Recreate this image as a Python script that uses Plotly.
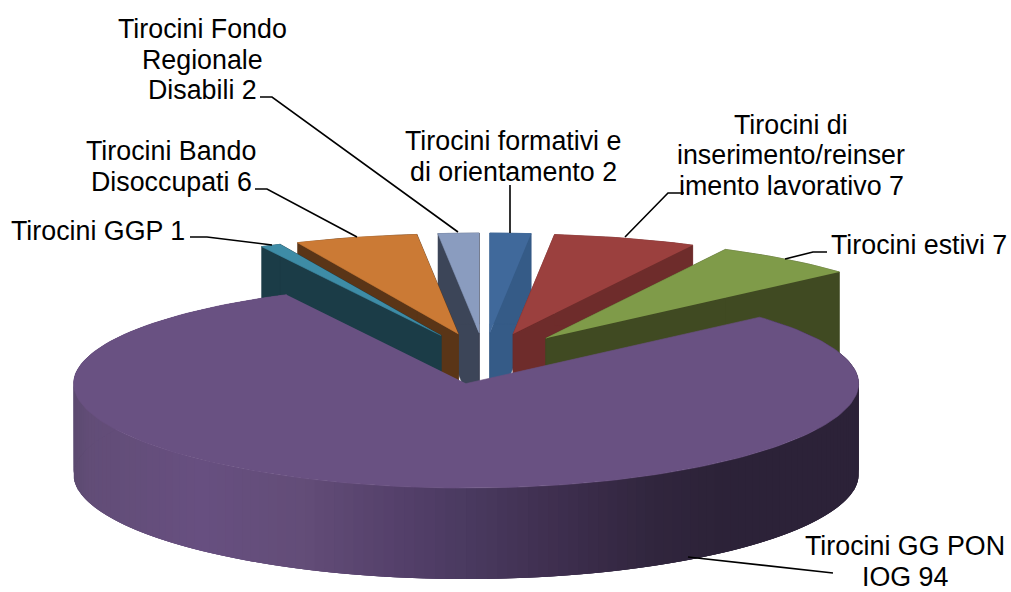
import math
import plotly.graph_objects as go

categories = ["Tirocini formativi e di orientamento", "Tirocini di inserimento/reinserimento lavorativo",
              "Tirocini estivi", "Tirocini GG PON IOG", "Tirocini GGP", "Tirocini Bando Disoccupati",
              "Tirocini Fondo Regionale Disabili"]
values = [2, 7, 7, 94, 1, 6, 2]
top_colors = ["#40699b", "#9b403e", "#7f9b49", "#695182", "#3e8ca6", "#cb7a35", "#8a9cbf"]
wall_colors = ["#355b87", "#6e2c2b", "#404a22", "#695182", "#1b3c47", "#5a3517", "#3c4558"]
paint_order = [0, 6, 1, 5, 2, 4, 3]

label_lines = [
    (["Tirocini Fondo", "Regionale", "Disabili 2"], 202, [29, 60, 90]),
    (["Tirocini Bando", "Disoccupati 6"], 171, [151, 182]),
    (["Tirocini GGP 1"], 98, [231]),
    (["Tirocini formativi e", "di orientamento 2"], 513, [141, 172]),
    (["Tirocini di", "inserimento/reinser", "imento lavorativo 7"], 791, [125, 155, 186]),
    (["Tirocini estivi 7"], 919, [245]),
    (["Tirocini GG PON", "IOG 94"], 905, [546, 577]),
]
leaders = [
    ([260, 272, 458], [97, 97, 232]),
    ([255, 267, 357], [189, 189, 237]),
    ([190, 207, 272], [237, 237, 245]),
    ([510, 510], [185, 233]),
    ([684, 668, 625], [193, 193, 237]),
    ([827, 813, 785], [252, 252, 259]),
    ([833, 688], [573, 557]),
]

CX, CY, RX, RY, RY_FRONT = 484.5, 358.5, 392.5, 100.0, 104.5
PULL_X, PULL_Y, DEPTH = 100.0, 25.5, 91.0
GRADIENT = [(74, (92, 74, 112)), (90, (98, 77, 119)), (200, (103, 79, 128)), (300, (99, 77, 120)),
            (400, (84, 64, 106)), (467, (74, 58, 96)), (550, (63, 47, 80)), (650, (49, 38, 62)),
            (720, (44, 34, 56)), (860, (44, 34, 56))]


def wall_shade(x):
    for (x0, c0), (x1, c1) in zip(GRADIENT, GRADIENT[1:]):
        if x <= x1:
            t = max(0, (x - x0) / (x1 - x0))
            return "rgb(%d,%d,%d)" % tuple(round(a + (b - a) * t) for a, b in zip(c0, c1))
    return "rgb(44,34,56)"


fig = go.Figure()


def poly(xs, ys, color, edge=True):
    fig.add_trace(go.Scatter(x=xs, y=ys, mode="lines", fill="toself", fillcolor=color,
                             line=dict(color=color, width=0.6 if edge else 0), hoverinfo="skip",
                             showlegend=False))


total = sum(values)
starts, acc = [], 0
for v in values:
    starts.append(acc / total * 2 * math.pi)
    acc += v


def rim(ax, ay, t):
    ry = RY + (RY_FRONT - RY) * max(0.0, -math.cos(t))
    return ax + RX * math.sin(t), ay - ry * math.cos(t)


for i in paint_order:
    t0 = starts[i]
    t1 = t0 + values[i] / total * 2 * math.pi
    mid = (t0 + t1) / 2
    ax = CX + PULL_X * math.sin(mid)
    ay = CY - PULL_Y * math.cos(mid)
    n = max(4, int(values[i] * 2))
    ts = [t0 + (t1 - t0) * k / n for k in range(n + 1)]
    pts = [rim(ax, ay, t) for t in ts]
    if values[i] < total / 2:
        for p, q in ((pts[0], (ax, ay)), (pts[-1], (ax, ay))):
            poly([p[0], q[0], q[0], p[0]], [p[1], q[1], q[1] + DEPTH, p[1] + DEPTH], wall_colors[i])
        poly([p[0] for p in pts] + [p[0] for p in pts[::-1]],
             [p[1] for p in pts] + [p[1] + DEPTH for p in pts[::-1]], wall_colors[i])
    else:
        # each band runs under the next ones, so no seams show between the shades
        for k in range(n):
            band = pts[k:k + 4]
            poly([p[0] for p in band] + [p[0] for p in band[::-1]],
                 [p[1] for p in band] + [p[1] + DEPTH for p in band[::-1]],
                 wall_shade((pts[k][0] + pts[k + 1][0]) / 2), edge=False)
    poly([ax] + [p[0] for p in pts], [ay] + [p[1] for p in pts], top_colors[i])

for xs, ys in leaders:
    fig.add_trace(go.Scatter(x=xs, y=ys, mode="lines", line=dict(color="black", width=1.6),
                             hoverinfo="skip", showlegend=False))

for lines, xc, ycs in label_lines:
    for text, yc in zip(lines, ycs):
        fig.add_annotation(x=xc, y=yc, text=text, showarrow=False, xanchor="center", yanchor="middle",
                           font=dict(family="Liberation Sans", size=26.8, color="black"))

fig.update_layout(width=1011, height=592, margin=dict(l=0, r=0, t=0, b=0),
                  paper_bgcolor="white", plot_bgcolor="white", showlegend=False,
                  xaxis=dict(range=[0, 1011], visible=False, fixedrange=True),
                  yaxis=dict(range=[592, 0], visible=False, fixedrange=True))
fig.write_html("out.html", config={"displayModeBar": False},
               post_script="document.body.style.margin='0';document.documentElement.style.overflow='hidden';")
